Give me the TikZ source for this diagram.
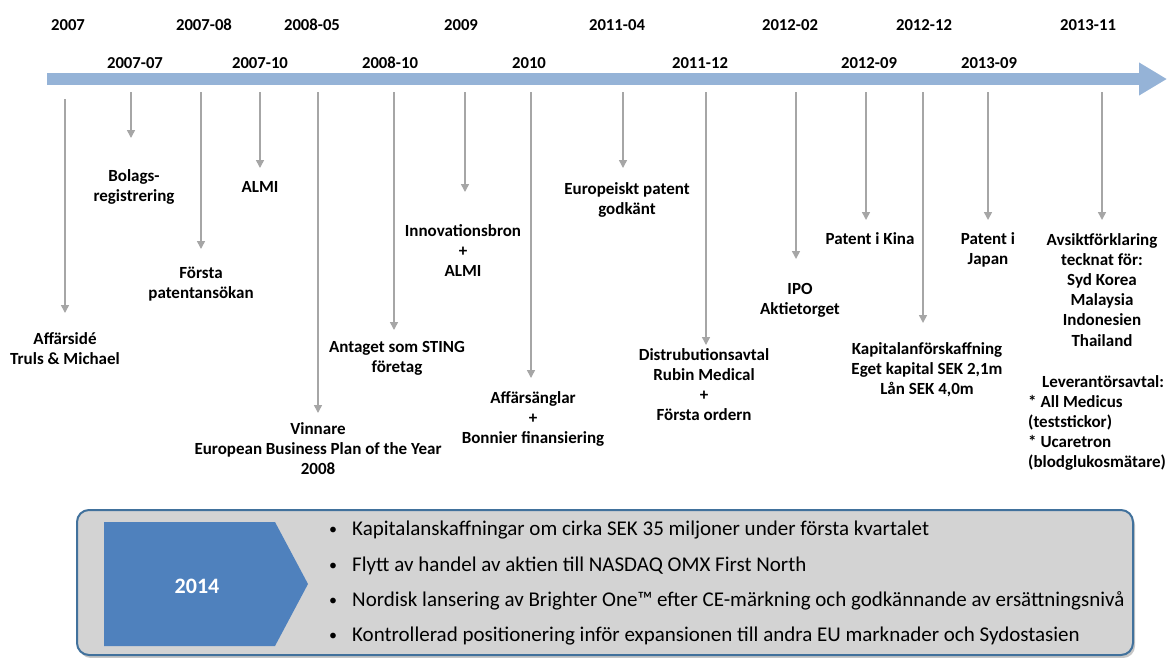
\documentclass[tikz,border=0pt]{standalone}
\usepackage{fontspec}
\setmainfont{Carlito}
\usetikzlibrary{positioning,arrows.meta,shadows}
\definecolor{barblue}{HTML}{95B3D7}
\definecolor{stemgray}{HTML}{A6A6A6}
\definecolor{panelgray}{HTML}{D3D3D3}
\definecolor{panelframe}{HTML}{41719C}
\definecolor{chevblue}{HTML}{4F81BD}
\newcommand{\panelbullet}{\makebox[23pt][l]{\fontsize{16}{16}\selectfont\raisebox{1pt}{•}}}

\begin{document}
\begin{tikzpicture}[x=1pt, y=-1pt,
				datenode/.style={font=\fontsize{16.7}{20}\selectfont\bfseries, anchor=base, inner sep=0pt},
				eventnode/.style={font=\fontsize{17}{20.2}\selectfont\bfseries, align=center, anchor=base, inner sep=0pt},
				stem/.style={draw=stemgray, line width=1.5pt, -{Triangle[length=8pt,width=8pt]}},
				bulletnode/.style={font=\fontsize{21}{24}\selectfont, anchor=base west, inner sep=0pt},
				]
				\useasboundingbox (0,0) rectangle (1167,657);

				%Timeline
				\coordinate (tl0) at (47,79);
				\coordinate (tl1) at (1167,79);
				\draw[barblue, line width=12pt, -{Triangle[length=28pt,width=31pt]}] (tl0) -- (tl1);

				%Dates
				\node[datenode] (d1)  at (68,30)   {2007};
				\node[datenode] (d2)  at (135,68)  {2007-07};
				\node[datenode] (d3)  at (204,30)  {2007-08};
				\node[datenode] (d4)  at (260,68)  {2007-10};
				\node[datenode] (d5)  at (312,30)  {2008-05};
				\node[datenode] (d6)  at (390,68)  {2008-10};
				\node[datenode] (d7)  at (461,30)  {2009};
				\node[datenode] (d8)  at (529,68)  {2010};
				\node[datenode] (d9)  at (617,30)  {2011-04};
				\node[datenode] (d10) at (700,68)  {2011-12};
				\node[datenode] (d11) at (790,30)  {2012-02};
				\node[datenode] (d12) at (869,68)  {2012-09};
				\node[datenode] (d13) at (924,30)  {2012-12};
				\node[datenode] (d14) at (989,68)  {2013-09};
				\node[datenode] (d15) at (1088,30) {2013-11};

				%Stems
				\coordinate (s1)  at (65,99);   \coordinate (t1)  at (65,313);
				\coordinate (s2)  at (131,92);  \coordinate (t2)  at (131,138);
				\coordinate (s3)  at (201,92);  \coordinate (t3)  at (201,249);
				\coordinate (s4)  at (260,92);  \coordinate (t4)  at (260,168);
				\coordinate (s5)  at (318,92);  \coordinate (t5)  at (318,413);
				\coordinate (s6)  at (394,92);  \coordinate (t6)  at (394,330);
				\coordinate (s7)  at (465,92);  \coordinate (t7)  at (465,192);
				\coordinate (s8)  at (531,92);  \coordinate (t8)  at (531,378);
				\coordinate (s9)  at (623,92);  \coordinate (t9)  at (623,168);
				\coordinate (s10) at (706,92);  \coordinate (t10) at (706,345);
				\coordinate (s11) at (796,92);  \coordinate (t11) at (796,259);
				\coordinate (s12) at (866,92);  \coordinate (t12) at (866,220);
				\coordinate (s13) at (923,92);  \coordinate (t13) at (923,323);
				\coordinate (s14) at (988,92);  \coordinate (t14) at (988,220);
				\coordinate (s15) at (1102,92); \coordinate (t15) at (1102,220);
				\draw[stem] (s1) -- (t1);
				\draw[stem] (s2) -- (t2);
				\draw[stem] (s3) -- (t3);
				\draw[stem] (s4) -- (t4);
				\draw[stem] (s5) -- (t5);
				\draw[stem] (s6) -- (t6);
				\draw[stem] (s7) -- (t7);
				\draw[stem] (s8) -- (t8);
				\draw[stem] (s9) -- (t9);
				\draw[stem] (s10) -- (t10);
				\draw[stem] (s11) -- (t11);
				\draw[stem] (s12) -- (t12);
				\draw[stem] (s13) -- (t13);
				\draw[stem] (s14) -- (t14);
				\draw[stem] (s15) -- (t15);

				%Events (placed at the baseline of the last line)
				\node[eventnode] (e1)  at (65,364.2)  {Affärsidé\\Truls \& Michael};
				\node[eventnode] (e2)  at (134,201.2) {Bolags-\\registrering};
				\node[eventnode] (e3)  at (201,298.2) {Första\\patentansökan};
				\node[eventnode] (e4)  at (260,192)   {ALMI};
				\node[eventnode] (e5)  at (318,474.4) {Vinnare\\European Business Plan of the Year\\2008};
				\node[eventnode] (e6)  at (397,372.2) {Antaget som STING\\företag};
				\node[eventnode] (e7)  at (463,276.4) {Innovationsbron\\+\\ALMI};
				\node[eventnode] (e8)  at (533,443.4) {Affärsänglar\\+\\Bonnier finansiering};
				\node[eventnode] (e9)  at (627,214.2) {Europeiskt patent\\godkänt};
				\node[eventnode] (e10) at (704,420.6) {Distrubutionsavtal\\Rubin Medical\\+\\Första ordern};
				\node[eventnode] (e11) at (800,314.2) {IPO\\Aktietorget};
				\node[eventnode] (e12) at (870,244)   {Patent i Kina};
				\node[eventnode] (e13) at (927,394.4) {Kapitalanförskaffning\\Eget kapital SEK 2,1m\\Lån SEK 4,0m};
				\node[eventnode] (e14) at (988,264.2) {Patent i\\Japan};
				\node[eventnode] (e15) at (1102,346)  {Avsiktförklaring\\tecknat för:\\Syd Korea\\Malaysia\\Indonesien\\Thailand};
				\node[eventnode, align=left, anchor=base west] (e16) at (1028,467.8)
					{\hspace{14pt}Leverantörsavtal:\\* All Medicus\\(teststickor)\\* Ucaretron\\(blodglukosmätare)};

				%Panel 2014
				\node[draw=panelframe, line width=2pt, fill=panelgray, rounded corners=12pt,
					minimum width=1056pt, minimum height=145pt,
					drop shadow={shadow xshift=2pt, shadow yshift=-3pt, opacity=.45}] (panel) at (605,582.5) {};
				\fill[chevblue] (104,522) -- (275,522) -- (308,584) -- (275,646) -- (104,646) -- cycle;
				\node[font=\fontsize{22}{24}\selectfont\bfseries, text=white, anchor=base] (y2014) at (197,593) {2014};

				\node[bulletnode] (b1) at (329,535) {\panelbullet Kapitalanskaffningar om cirka SEK 35 miljoner under första kvartalet};
				\node[bulletnode] (b2) at (329,571) {\panelbullet Flytt av handel av aktien till NASDAQ OMX First North};
				\node[bulletnode] (b3) at (329,606) {\panelbullet Nordisk lansering av Brighter One™ efter CE-märkning och godkännande av ersättningsnivå};
				\node[bulletnode] (b4) at (329,641) {\panelbullet Kontrollerad positionering inför expansionen till andra EU marknader och Sydostasien};
			\end{tikzpicture}
\end{document}
